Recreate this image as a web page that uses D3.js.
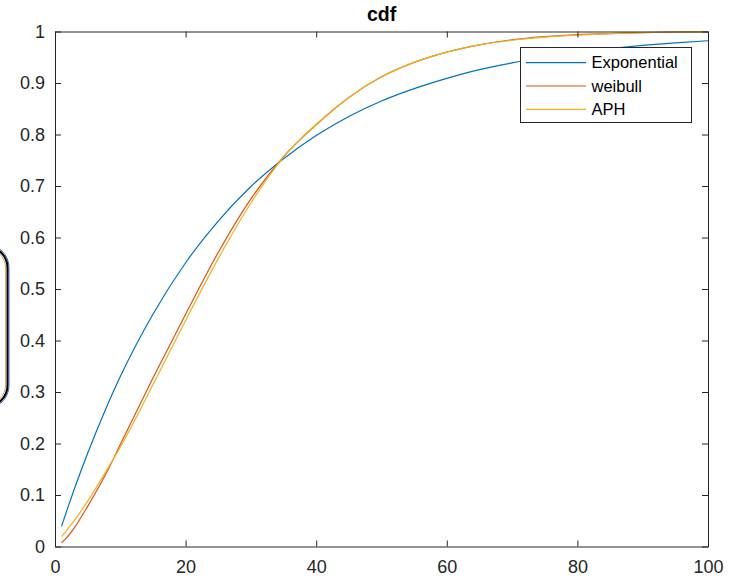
<!DOCTYPE html>
<html>
<head>
<meta charset="utf-8">
<script src="https://cdn.jsdelivr.net/npm/d3@7"></script>
<style>
  html, body { margin: 0; padding: 0; background: #fff; }
  svg { display: block; font-family: "Liberation Sans", Arial, Helvetica, sans-serif; }
</style>
</head>
<body>
<svg id="chart" width="733" height="576"></svg>
<script>
// Sample points (x) and the three CDF curves evaluated there
const xs = [1, 2, 3, 5, 8, 10, 15, 20, 25, 30, 35, 40, 45, 50, 55, 60, 65, 70, 75, 80, 85, 90, 95, 100];
const expCdf = [0.039, 0.077, 0.113, 0.181, 0.274, 0.330, 0.451, 0.551, 0.632, 0.699, 0.753, 0.798, 0.835, 0.865, 0.889, 0.909, 0.926, 0.939, 0.950, 0.960, 0.967, 0.973, 0.978, 0.982];
const weibullCdf = [0.007, 0.020, 0.037, 0.078, 0.146, 0.198, 0.327, 0.451, 0.571, 0.675, 0.757, 0.819, 0.872, 0.912, 0.940, 0.960, 0.974, 0.984, 0.990, 0.994, 0.996, 0.998, 0.999, 0.9995];
const aphCdf = [0.019, 0.035, 0.051, 0.088, 0.150, 0.193, 0.314, 0.439, 0.559, 0.667, 0.756, 0.820, 0.872, 0.912, 0.940, 0.960, 0.974, 0.983, 0.989, 0.993, 0.996, 0.998, 0.999, 0.9995];

const seriesNames = ["Exponential", "weibull", "APH"];
const seriesColors = ["#0072BD", "#D95319", "#EDB120"];
const xTicks = [0, 20, 40, 60, 80, 100];
const yTicks = [0, 0.1, 0.2, 0.3, 0.4, 0.5, 0.6, 0.7, 0.8, 0.9, 1];
const titleText = "cdf";

const svg = d3.select("#chart");
const plotLeft = 55, plotRight = 708, plotTop = 31.5, plotBottom = 546.5;
const axisColor = "#262626";

const x = d3.scaleLinear().domain([0, 100]).range([plotLeft, plotRight]);
const y = d3.scaleLinear().domain([0, 1]).range([plotBottom, plotTop]);

// rounded bracket shape at the left edge
const bracket = svg.append("g");
bracket.append("rect")
  .attr("x", -40.5).attr("y", 244.5).attr("width", 49.5).attr("height", 164)
  .attr("rx", 23).attr("fill", "none").attr("stroke", "#3a6fc4").attr("stroke-width", 1);
bracket.append("rect")
  .attr("x", -40).attr("y", 246).attr("width", 47.5).attr("height", 161)
  .attr("rx", 22).attr("fill", "none").attr("stroke", "#000").attr("stroke-width", 2);
bracket.append("rect")
  .attr("x", -39).attr("y", 247.8).attr("width", 44.6).attr("height", 157.4)
  .attr("rx", 20.5).attr("fill", "none").attr("stroke", "#d08a40").attr("stroke-width", 0.8);

// plot area
svg.append("rect")
  .attr("x", plotLeft).attr("y", plotTop).attr("width", plotRight - plotLeft).attr("height", plotBottom - plotTop)
  .attr("fill", "#fff");

const seriesData = [expCdf, weibullCdf, aphCdf];
const line = d3.line()
  .x(d => x(d[0]))
  .y(d => y(d[1]))
  .curve(d3.curveMonotoneX);

svg.append("clipPath").attr("id", "plotclip")
  .append("rect").attr("x", plotLeft).attr("y", plotTop - 1).attr("width", plotRight - plotLeft).attr("height", plotBottom - plotTop + 2);

const plot = svg.append("g").attr("clip-path", "url(#plotclip)");
seriesData.forEach((vals, i) => {
  plot.append("path")
    .datum(xs.map((xv, j) => [xv, vals[j]]))
    .attr("d", line)
    .attr("fill", "none")
    .attr("stroke", seriesColors[i])
    .attr("stroke-width", 1.2)
    .attr("stroke-linejoin", "round");
});

// axes (box with inward ticks on all sides)
const tickLen = 6;
const axBottom = d3.axisBottom(x).tickValues(xTicks).tickSizeInner(-tickLen).tickSizeOuter(0).tickFormat(d3.format("d"));
const axTop = d3.axisTop(x).tickValues(xTicks).tickSizeInner(-tickLen).tickSizeOuter(0).tickFormat("");
const axLeft = d3.axisLeft(y).tickValues(yTicks).tickSizeInner(-tickLen).tickSizeOuter(0).tickPadding(10).tickFormat(d => d3.format("~g")(d));
const axRight = d3.axisRight(y).tickValues(yTicks).tickSizeInner(-tickLen).tickSizeOuter(0).tickFormat("");

function styleAxis(g) {
  g.select(".domain").attr("stroke", axisColor).attr("stroke-width", 1);
  g.selectAll(".tick line").attr("stroke", axisColor).attr("stroke-width", 1);
  g.selectAll(".tick text").attr("fill", axisColor).attr("font-size", 18).attr("font-family", "Liberation Sans, Arial, sans-serif");
}

svg.append("g").attr("transform", `translate(0,${plotBottom})`).call(axBottom).call(styleAxis)
  .selectAll(".tick text").attr("dy", null).attr("y", 26.5);
svg.append("g").attr("transform", `translate(0,${plotTop})`).call(axTop).call(styleAxis);
svg.append("g").attr("transform", `translate(${plotLeft},0)`).call(axLeft).call(styleAxis);
svg.append("g").attr("transform", `translate(${plotRight},0)`).call(axRight).call(styleAxis);

// title
svg.append("text")
  .attr("x", (plotLeft + plotRight) / 2).attr("y", 20.5)
  .attr("text-anchor", "middle")
  .attr("font-size", 19.5).attr("font-weight", "bold").attr("fill", "#000")
  .text(titleText);

// legend
const lg = svg.append("g");
lg.append("rect")
  .attr("x", 520.5).attr("y", 47.5).attr("width", 171).attr("height", 75)
  .attr("fill", "#fff").attr("stroke", axisColor).attr("stroke-width", 1);
const rowY = [62.7, 86, 109.3];
seriesNames.forEach((name, i) => {
  lg.append("line")
    .attr("x1", 526).attr("x2", 586).attr("y1", rowY[i]).attr("y2", rowY[i])
    .attr("stroke", seriesColors[i]).attr("stroke-width", 1.2);
  lg.append("text")
    .attr("x", 591.5).attr("y", rowY[i]).attr("dy", "0.35em")
    .attr("font-size", 16.5).attr("fill", "#000")
    .text(name);
});
</script>
</body>
</html>
